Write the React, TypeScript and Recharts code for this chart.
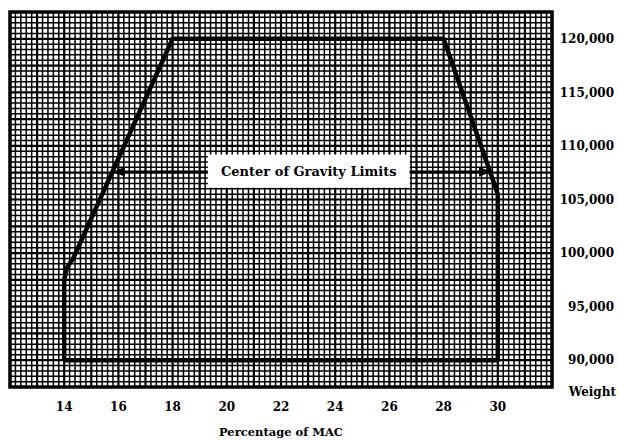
import React from 'react';
import {
  ComposedChart, XAxis, YAxis, CartesianGrid, Line, ReferenceArea, ReferenceLine, Scatter,
} from 'recharts';

// Axis ticks
const macTicks = [14, 16, 18, 20, 22, 24, 26, 28, 30];
const weightTicks = [90000, 95000, 100000, 105000, 110000, 115000, 120000];
const macDomain = [12, 32];
const weightDomain = [87500, 122500];

// Graph-paper grid spacing (every 5th line is heavier)
const minorMacStep = 0.2;
const minorWeightStep = 500;
const majorEvery = 5;

// Center of gravity envelope (closed polygon)
const envelopeMac = [14, 14, 14.1, 14.35, 18, 28, 29.85, 30, 30, 14];
const envelopeWeight = [90000, 97500, 98600, 99600, 120000, 120000, 106600, 105500, 90000, 90000];

// Callout
const calloutText = 'Center of Gravity Limits';
const calloutMac = [19.3, 26.75];
const calloutWeight = [106100, 109200];
const arrowWeight = 107600;
const arrowTipMac = [15.8, 29.75];
const arrowDir = ['left', 'right'];

const FONT = '"DejaVu Serif", "Liberation Serif", serif';

const makeSteps = (lo: number, hi: number, step: number) => {
  const n = Math.round((hi - lo) / step);
  return Array.from({ length: n + 1 }, (_, i) => +(lo + i * step).toFixed(4));
};
const gridX = makeSteps(macDomain[0], macDomain[1], minorMacStep);
const gridY = makeSteps(weightDomain[0], weightDomain[1], minorWeightStep);

const envelopeData = envelopeMac.map((m, i) => ({ mac: m, weight: envelopeWeight[i] }));
const arrowData = arrowTipMac.map((m, i) => ({ mac: m, weight: arrowWeight, dir: arrowDir[i] }));

const scaleOf = (axis: any, domain: number[], lo: number, len: number, invert: boolean) => (v: number) => {
  if (axis && typeof axis.scale === 'function') return axis.scale(v);
  const t = (v - domain[0]) / (domain[1] - domain[0]);
  return invert ? lo + len * (1 - t) : lo + len * t;
};

const verticalGen = (p: any) => {
  const f = scaleOf(p.xAxis, macDomain, p.offset.left, p.offset.width, false);
  return gridX.map(f);
};
const horizontalGen = (p: any) => {
  const f = scaleOf(p.yAxis, weightDomain, p.offset.top, p.offset.height, true);
  return gridY.map(f);
};

const gridLine = (p: any) => {
  const major = p.index % majorEvery === 0;
  return (
    <line key={p.key} x1={p.x1} y1={p.y1} x2={p.x2} y2={p.y2}
      stroke="#000" strokeWidth={major ? 2.2 : 1.5} />
  );
};

const WeightTick = (p: any) => (
  <text x={p.x + 54} y={p.y} dy="0.35em" textAnchor="end"
    style={{ fontFamily: FONT, fontWeight: 700, fontSize: 12, fill: '#000' }}>
    {Number(p.payload.value).toLocaleString('en-US')}
  </text>
);

const ArrowHead = (p: any) => {
  const { cx, cy, payload } = p;
  const s = payload.dir === 'left' ? 1 : -1;
  const pts = `${cx},${cy} ${cx + s * 12},${cy - 5} ${cx + s * 12},${cy + 5}`;
  return <polygon points={pts} fill="#000" />;
};

export default function App() {
  return (
    <div style={{ position: 'absolute', left: 0, top: 0, background: '#fff' }}>
      <ComposedChart width={618} height={440} data={envelopeData}
        margin={{ top: 12, right: 0, left: 10, bottom: 0 }}>
        <CartesianGrid verticalCoordinatesGenerator={verticalGen}
          horizontalCoordinatesGenerator={horizontalGen}
          vertical={gridLine} horizontal={gridLine} stroke="#000" />
        <XAxis type="number" dataKey="mac" domain={macDomain} ticks={macTicks} height={53}
          axisLine={false} tickLine={false} tickSize={0} tickMargin={15} allowDataOverflow
          tick={{ fontFamily: FONT, fontWeight: 700, fontSize: 12, fill: '#000' }}
          label={{ value: 'Percentage of MAC', position: 'insideBottom', offset: 4,
            style: { fontFamily: FONT, fontWeight: 700, fontSize: 11.5, fill: '#000' } }} />
        <YAxis type="number" orientation="right" domain={weightDomain} ticks={weightTicks} width={66}
          axisLine={false} tickLine={false} tickSize={0} tickMargin={8} allowDataOverflow
          tick={<WeightTick />}
          label={{ content: (lp: any) => (
            <text x={lp.viewBox.x + lp.viewBox.width - 2} y={lp.viewBox.y + lp.viewBox.height + 9}
              textAnchor="end" style={{ fontFamily: FONT, fontWeight: 700, fontSize: 12, fill: '#000' }}>
              Weight
            </text>
          ) }} />
        <ReferenceArea x1={macDomain[0]} x2={macDomain[1]} y1={weightDomain[0]} y2={weightDomain[1]}
          fill="none" stroke="#000" strokeWidth={3.5} fillOpacity={0} />
        <ReferenceArea x1={calloutMac[0]} x2={calloutMac[1]} y1={calloutWeight[0]} y2={calloutWeight[1]}
          fill="#fff" fillOpacity={1} stroke="none"
          label={{ value: calloutText, position: 'center',
            style: { fontFamily: FONT, fontWeight: 700, fontSize: 13, fill: '#000' } }} />
        <ReferenceLine segment={[{ x: calloutMac[0], y: arrowWeight }, { x: arrowTipMac[0] + 0.2, y: arrowWeight }]}
          stroke="#000" strokeWidth={2.5} />
        <ReferenceLine segment={[{ x: calloutMac[1], y: arrowWeight }, { x: arrowTipMac[1] - 0.2, y: arrowWeight }]}
          stroke="#000" strokeWidth={2.5} />
        <Line type="linear" dataKey="weight" stroke="#000" strokeWidth={4.5} dot={false}
          isAnimationActive={false} strokeLinejoin="round" />
        <Scatter data={arrowData} dataKey="weight" shape={<ArrowHead />} isAnimationActive={false} />
      </ComposedChart>
    </div>
  );
}
